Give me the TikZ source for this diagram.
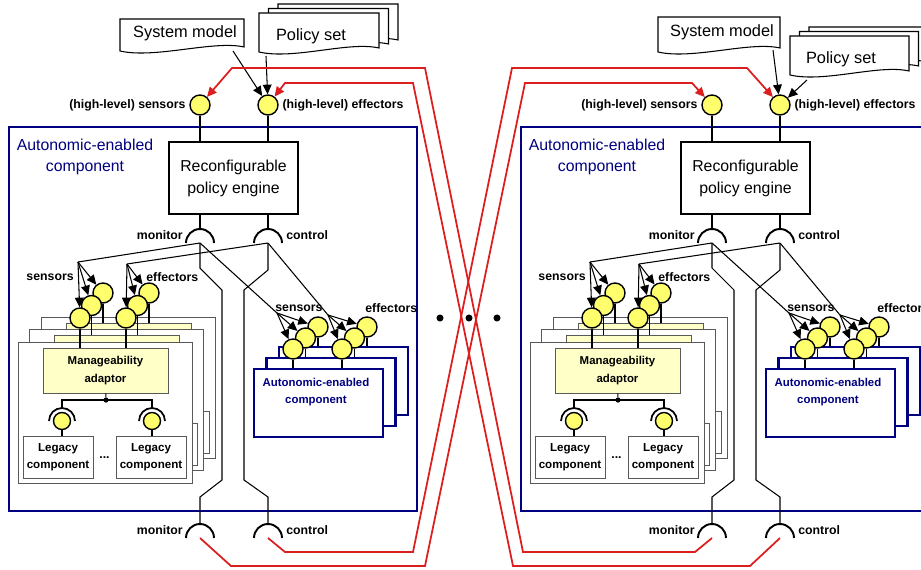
\documentclass[tikz,border=0pt]{standalone}
\usepackage{fontspec}
\setmainfont{Liberation Sans}
\usetikzlibrary{arrows.meta,positioning}

\definecolor{navy}{RGB}{0,0,128}
\definecolor{ballyellow}{RGB}{255,255,110}
\definecolor{adaptfill}{RGB}{255,255,200}
\definecolor{linkred}{RGB}{220,30,30}

\newcommand\lblfont{\bfseries\fontsize{7}{8}\selectfont}
\newcommand\docfont{\fontsize{9.3}{11}\selectfont}

\tikzset{
  wire/.style={line width=0.6pt},
  ball/.style={circle,draw,line width=0.8pt,fill=ballyellow,minimum size=0.4cm,inner sep=0pt},
  legball/.style={ball,minimum size=0.34cm},
  lbl/.style={font=\lblfont,inner sep=0pt},
  fan/.style={wire,-{Triangle[length=5.5pt,width=5pt]}},
  redlink/.style={draw=linkred,line width=1pt,-{Triangle[length=5.5pt,width=5pt]}},
  pagebox/.style={draw=black!65,line width=0.5pt,fill=white},
  adaptor/.style={draw=black!65,line width=0.5pt,fill=adaptfill,minimum width=2.5cm,minimum height=0.9cm},
  adtext/.style={align=center,font=\bfseries\fontsize{6.5}{10}\selectfont},
  legacy/.style={draw=black!65,line width=0.5pt,fill=white,minimum width=1.4cm,minimum height=0.84cm},
  legtext/.style={align=center,font=\bfseries\fontsize{6.6}{10}\selectfont},
  subbox/.style={draw=navy,line width=1.3pt,fill=white,minimum width=2.58cm,minimum height=1.36cm},
  engine/.style={draw,line width=0.7pt,fill=white,minimum width=2.58cm,minimum height=1.44cm,
    align=center,font=\fontsize{9}{12.5}\selectfont},
  dotnode/.style={circle,fill,inner sep=0pt,minimum size=3pt},
}

% document page with wavy bottom: left, top, right, bottom
\newcommand\docpage[4]{%
  \draw[wire,fill=white] (#1,#2) -- (#3,#2) -- (#3,#4)
    .. controls +(-30,-7) and +(35,8) .. (#1,#4+4) -- cycle;}
% socket (required interface), opens downward: centre x, y
\newcommand\socket[2]{%
  \draw[line width=1.1pt] (#1,#2) ++(-14,0) arc[start angle=180,end angle=360,radius=14];}

\begin{document}
\begin{tikzpicture}[x=0.02cm,y=-0.02cm]
\useasboundingbox (0,0) rectangle (921,569);
\clip (0,0) rectangle (921,569);

\foreach \p/\dx in {L/0,R/512}{
\begin{scope}[shift={(\dx,0)}]
  % outer component
  \draw[navy,line width=1.6pt] (9,127) rectangle (417,511);
  \node[text=navy,align=center,font=\fontsize{9}{12}\selectfont] (\p-title) at (85,157) {Autonomic-enabled\\component};

  % high-level sensors / effectors
  \node[ball] (\p-hsen) at (200,105) {};
  \node[ball] (\p-heff) at (268,105) {};
  \node[lbl,left=2pt of \p-hsen] (\p-hsenlbl) {(high-level) sensors};
  \node[lbl,right=2pt of \p-heff] (\p-hefflbl) {(high-level) effectors};
  \node[engine] (\p-eng) at (233.5,178) {Reconfigurable\\policy engine};
  \draw[wire] (\p-hsen) -- (\p-hsen |- \p-eng.north);
  \draw[wire] (\p-heff) -- (\p-heff |- \p-eng.north);

  % monitor / control interfaces
  \coordinate (\p-mon) at (200,243);
  \coordinate (\p-ctl) at (268,243);
  \coordinate (\p-monb) at (200,538);
  \coordinate (\p-ctlb) at (268,538);
  \draw[wire] (\p-eng.south -| \p-mon) -- (200,229);
  \draw[wire] (\p-eng.south -| \p-ctl) -- (268,229);
  \socket{200}{243}
  \socket{268}{243}
  \socket{200}{538}
  \socket{268}{538}
  \node[lbl,anchor=east] (\p-monlbl) at (183,235) {monitor};
  \node[lbl,anchor=west] (\p-ctllbl) at (286,235) {control};
  \node[lbl,anchor=east] (\p-monblbl) at (183,530) {monitor};
  \node[lbl,anchor=west] (\p-ctlblbl) at (286,530) {control};
  \draw[wire] (\p-mon) -- (200,268) -- (222,290) -- (222,480) -- (200,497) -- (200,524);
  \draw[wire] (\p-ctl) -- (268,270) -- (244,290) -- (244,480) -- (268,497) -- (268,524);

  % stack of adaptor pages
  \foreach \i in {2,1,0}{
  \begin{scope}[shift={(11.5*\i,-12.5*\i)}]
    \draw[pagebox] (18,342) rectangle (192,483);
    \node[adaptor] (\p-ad\i) at (105.5,370.5) {};
    \node[dotnode] (\p-jn\i) at (106,400) {};
    \draw[wire] (\p-ad\i) -- (\p-jn\i);
    \draw[wire] (62,408) -- (62,400) -- (152,400) -- (152,408);
    \node[legball] (\p-la\i) at (62,421) {};
    \node[legball] (\p-lb\i) at (152,421) {};
    \draw[line width=1pt] (62,421) ++(-13,0) arc[start angle=180,end angle=360,radius=13];
    \draw[line width=1pt] (152,421) ++(-13,0) arc[start angle=180,end angle=360,radius=13];
    \node[legacy] (\p-lga\i) at (58,457) {};
    \node[legacy] (\p-lgb\i) at (151,457) {};
    \draw[wire] (\p-la\i) -- (\p-la\i |- \p-lga\i.north);
    \draw[wire] (\p-lb\i) -- (\p-lb\i |- \p-lgb\i.north);
    \node[ball] (\p-ps\i) at (80,318) {};
    \node[ball] (\p-pe\i) at (126,318) {};
    \draw[wire] (\p-ps\i) -- (\p-ps\i |- \p-ad\i.north);
    \draw[wire] (\p-pe\i) -- (\p-pe\i |- \p-ad\i.north);
  \end{scope}}
  \node[adtext] (\p-adtxt) at (\p-ad0) {Manageability\\adaptor};
  \node[legtext] (\p-lgatxt) at (\p-lga0) {Legacy\\component};
  \node[legtext] (\p-lgbtxt) at (\p-lgb0) {Legacy\\component};
  \node[font=\bfseries\fontsize{7}{8}\selectfont] (\p-dd) at (104.5,458) {...};

  % stack of sub-components
  \foreach \i in {2,1,0}{
  \begin{scope}[shift={(12.5*\i,-11*\i)}]
    \node[subbox] (\p-sub\i) at (318.5,403) {};
    \node[ball] (\p-ss\i) at (293,349) {};
    \node[ball] (\p-se\i) at (342,349) {};
    \draw[wire] (\p-ss\i) -- (\p-ss\i |- \p-sub\i.north);
    \draw[wire] (\p-se\i) -- (\p-se\i |- \p-sub\i.north);
  \end{scope}}
  \node[text=navy,align=center,font=\bfseries\fontsize{6.5}{9.6}\selectfont] (\p-subtxt) at (316,392) {Autonomic-enabled\\component};

  % fans
  \coordinate (\p-sf) at (78,262);
  \coordinate (\p-ef) at (127,264);
  \coordinate (\p-ssf) at (277,313);
  \coordinate (\p-sef) at (328,315);
  \draw[wire] (\p-mon) -- (\p-sf);
  \draw[wire] (\p-ctl) -- (\p-ef);
  \draw[wire] (\p-mon) -- (\p-ssf);
  \draw[wire] (\p-ctl) -- (\p-sef);
  \foreach \i in {0,1,2}{
    \draw[fan] (\p-sf) -- (\p-ps\i);
    \draw[fan] (\p-ef) -- (\p-pe\i);
    \draw[fan] (\p-ssf) -- (\p-ss\i);
    \draw[fan] (\p-sef) -- (\p-se\i);
  }
  \node[lbl,anchor=east] (\p-sflbl) at (74,277) {sensors};
  \node[lbl,anchor=west] (\p-eflbl) at (146,277) {effectors};
  \node[lbl,anchor=west] (\p-ssflbl) at (275,308) {sensors};
  \node[lbl,anchor=west] (\p-seflbl) at (365,308) {effectors};
\end{scope}}

% system models and policy sets
\docpage{120}{19}{244}{47}
\node[font=\docfont] (L-sysm) at (185,33) {System model};
\docpage{278}{4}{398}{40}
\docpage{268.5}{8.5}{388.5}{44}
\docpage{259}{13}{379}{48}
\node[font=\docfont] (L-pol) at (311,36) {Policy set};
\coordinate (L-sysmout) at (233,51);
\coordinate (L-polout) at (266,56);
\draw[fan] (L-sysmout) -- (L-heff);
\draw[fan] (L-polout) -- (L-heff);

\docpage{658}{17}{780}{48}
\node[font=\docfont] (R-sysm) at (722,32) {System model};
\docpage{809}{27}{928}{62}
\docpage{799.5}{31.5}{918.5}{66}
\docpage{790}{36}{909}{71}
\node[font=\docfont] (R-pol) at (841,59) {Policy set};
\coordinate (R-sysmout) at (773,50);
\coordinate (R-polout) at (807,80);
\draw[fan] (R-sysmout) -- (R-heff);
\draw[fan] (R-polout) -- (R-heff);

% links between the two components
\draw[redlink] (L-monb) -- (231,566) -- (425,566) -- (525,83) -- (692,83) -- (R-hsen);
\draw[redlink] (L-ctlb) -- (285,552) -- (413,552) -- (512,68) -- (747,68) -- (R-heff);
\draw[redlink] (R-monb) -- (695,552) -- (523,552) -- (425,68) -- (232,68) -- (L-hsen);
\draw[redlink] (R-ctlb) -- (750,566) -- (513,566) -- (413,83) -- (285,83) -- (L-heff);

\node[dotnode,minimum size=4pt] (gap1) at (440,318) {};
\node[dotnode,minimum size=4pt] (gap2) at (469,318) {};
\node[dotnode,minimum size=4pt] (gap3) at (497,318) {};
\end{tikzpicture}
\end{document}
